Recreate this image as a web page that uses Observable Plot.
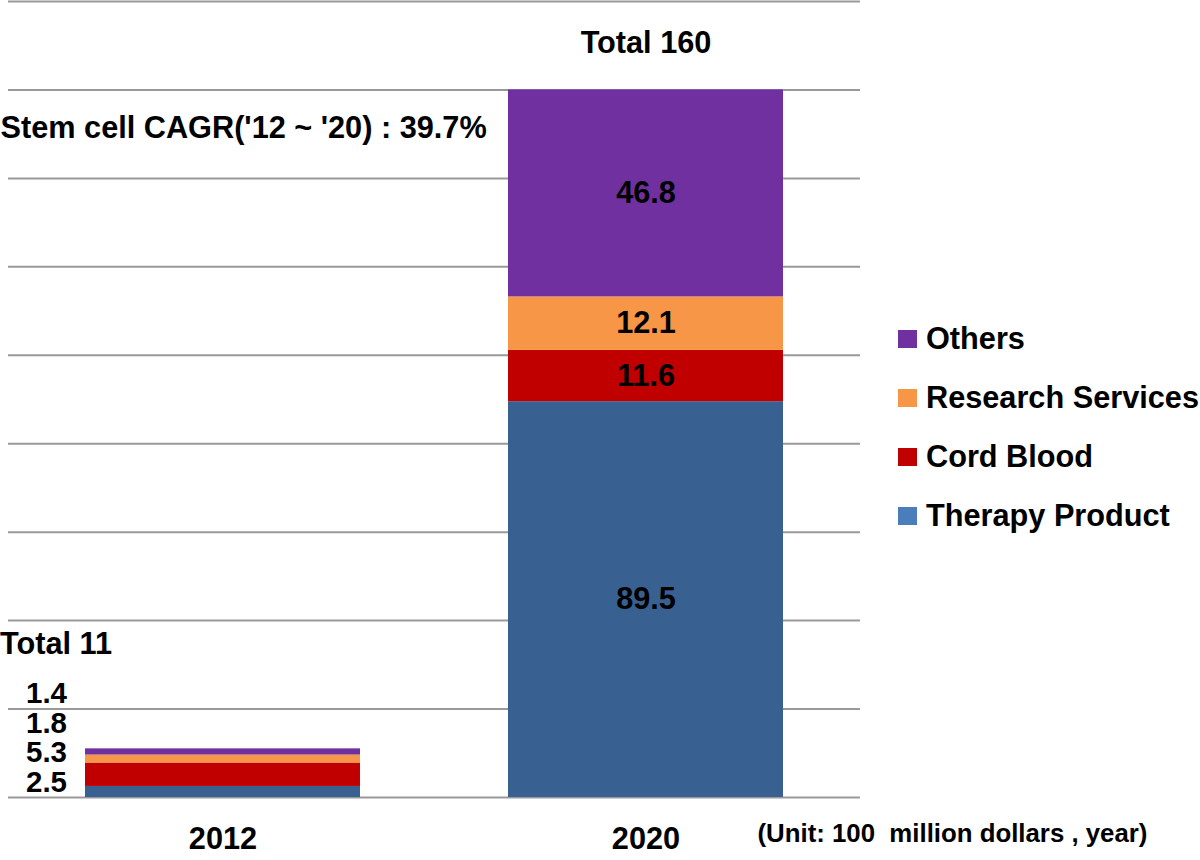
<!DOCTYPE html>
<html>
<head>
<meta charset="utf-8">
<script src="https://cdn.jsdelivr.net/npm/d3@7"></script>
<script src="https://cdn.jsdelivr.net/npm/@observablehq/plot@0.6"></script>
<style>
  html, body { margin: 0; padding: 0; background: #fff; }
  #wrap { position: relative; width: 1200px; height: 860px; font-family: "Liberation Sans", Arial, Helvetica, sans-serif; }
  #legend { position: absolute; left: 898px; top: 0; }
  .item { position: absolute; left: 0; display: flex; align-items: center; white-space: nowrap; font-weight: bold; font-size: 30.7px; color: #000; transform: translateY(-50%); }
  .sw { width: 19px; height: 18px; margin-right: 9px; }
</style>
</head>
<body>
<div id="wrap"></div>
<script>
// ---- data ----
const years = ["2012", "2020"];
const segments = ["Therapy Product", "Cord Blood", "Research Services", "Others"];
const values2012 = [2.5, 5.3, 1.8, 1.4];
const values2020 = [89.5, 11.6, 12.1, 46.8];
const totals = [11, 160];
const yTicks = [0, 20, 40, 60, 80, 100, 120, 140, 160, 180];
const barColors = ["#386192", "#C00000", "#F79646", "#7030A0"];
const legendColors = ["#4A7EBB", "#C00000", "#F79646", "#7030A0"];
const cagrText = "Stem cell CAGR('12 ~ '20) : 39.7%";
const unitText = "(Unit: 100  million dollars , year)";

// ---- table ----
const rows = [];
segments.forEach((s, i) => rows.push({year: years[0], segment: s, value: values2012[i]}));
segments.forEach((s, i) => rows.push({year: years[1], segment: s, value: values2020[i]}));
const rows2020 = rows.filter(d => d.year === years[1]);
const rows2012 = rows.filter(d => d.year === years[0]);
const totalRows = years.map((y, i) => ({year: y, total: totals[i], text: "Total " + totals[i]}));

const font = "Liberation Sans, Arial, Helvetica, sans-serif";
const fs = 30.7;

// 2012 values listed beside the thin bar, one line each (bottom segment lowest)
const labels2012 = rows2012.map((d, k) =>
  Plot.text([d], {x: "year", y: 0, text: r => r.value.toFixed(1), textAnchor: "end", lineAnchor: "middle",
    dx: -156, dy: -15 - 29.7 * k, fontSize: 29.5, fontWeight: "bold", fill: "#000"}));

const chart = Plot.plot({
  width: 1200,
  height: 860,
  marginLeft: 8,
  marginRight: 340,
  marginTop: 1,
  marginBottom: 63,
  style: {fontFamily: font, background: "white", overflow: "visible"},
  x: {domain: years, paddingInner: 0.35, paddingOuter: 0.18, axis: null},
  y: {domain: [0, 180], axis: null},
  color: {domain: segments, range: barColors},
  marks: [
    Plot.ruleY(yTicks, {stroke: "#999", strokeWidth: 2}),
    Plot.barY(rows, {x: "year", y: "value", fill: "segment", z: "segment", order: segments}),
    Plot.text(rows2020, Plot.stackY({x: "year", y: "value", z: "segment", order: segments, text: d => d.value.toFixed(1), fontSize: fs, fontWeight: "bold", fill: "#000"})),
    ...labels2012,
    Plot.text(totalRows.filter(d => d.year === years[1]), {x: "year", y: "total", text: "text", dy: -47, lineAnchor: "middle", fontSize: fs, fontWeight: "bold", fill: "#000"}),
    Plot.text(totalRows.filter(d => d.year === years[0]), {x: "year", y: "total", text: "text", dx: -223, dy: -105, textAnchor: "start", lineAnchor: "middle", fontSize: fs, fontWeight: "bold", fill: "#000"}),
    Plot.text([cagrText], {frameAnchor: "top-left", text: d => d, dx: -8, dy: 127, textAnchor: "start", lineAnchor: "middle", fontSize: fs, fontWeight: "bold", fill: "#000"}),
    Plot.text(years, {x: d => d, frameAnchor: "bottom", text: d => d, dy: 42, lineAnchor: "middle", fontSize: fs, fontWeight: "bold", fill: "#000"}),
    Plot.text([unitText], {frameAnchor: "bottom-right", text: d => d, dx: -103, dy: 36, textAnchor: "start", lineAnchor: "middle", fontSize: 25.8, fontWeight: "bold", fill: "#000"})
  ]
});

const wrap = document.getElementById("wrap");
wrap.appendChild(chart);

// legend (HTML)
const legend = document.createElement("div");
legend.id = "legend";
const legendY = [339, 398, 457, 516];
segments.slice().reverse().forEach((s, i) => {
  const idx = segments.indexOf(s);
  const item = document.createElement("div");
  item.className = "item";
  item.style.top = legendY[i] + "px";
  const sw = document.createElement("span");
  sw.className = "sw";
  sw.style.background = legendColors[idx];
  const t = document.createElement("span");
  t.textContent = s;
  item.appendChild(sw);
  item.appendChild(t);
  legend.appendChild(item);
});
wrap.appendChild(legend);
</script>
</body>
</html>
